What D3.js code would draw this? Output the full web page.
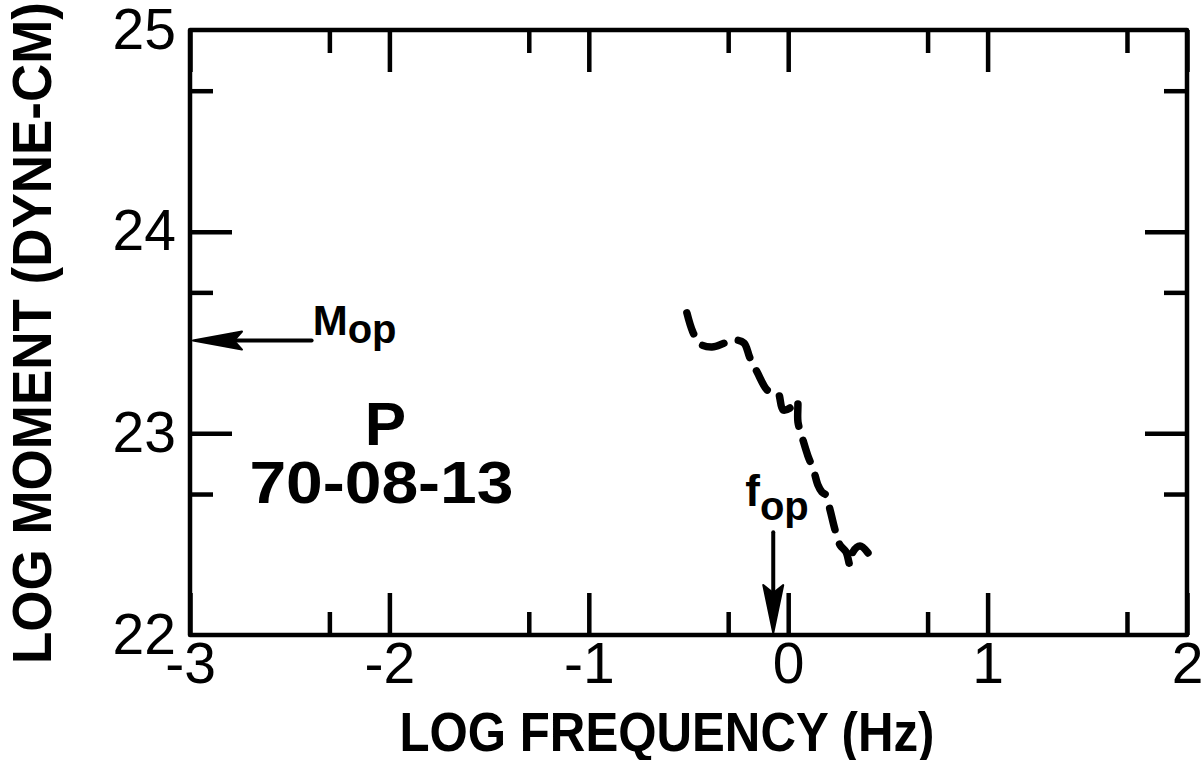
<!DOCTYPE html>
<html>
<head>
<meta charset="utf-8">
<script src="https://cdn.jsdelivr.net/npm/d3@7"></script>
<style>
  html, body { margin: 0; padding: 0; background: #fff; }
  svg { display: block; }
  text { fill: #000; font-family: "Liberation Sans", Arial, sans-serif; }
</style>
</head>
<body>
<svg id="chart" width="1201" height="760"></svg>
<script>
// Axis ticks (log10 units); minor ticks sit at log10(5) within each decade
const xTicksMajor = [-3, -2, -1, 0, 1, 2];
const xTickLabels = ["-3", "-2", "-1", "0", "1", "2"];
const xTicksMinor = [-2.301, -1.301, -0.301, 0.699, 1.699];
const yTicksMajor = [22, 23, 24, 25];
const yTickLabels = ["22", "23", "24", "25"];
const yTicksMinor = [22.699, 23.699, 24.699];

// P-wave moment spectrum, event 70-08-13
const spectrumLogF = [-0.508, -0.478, -0.442, -0.382, -0.317, -0.267, -0.222, -0.192, -0.156, -0.106,
                      -0.076, -0.051, -0.026, 0.009, 0.044, 0.049, 0.074, 0.099, 0.127, 0.149,
                      0.169, 0.189, 0.210, 0.235, 0.260, 0.290, 0.310, 0.325, 0.360, 0.400];
const spectrumLogM = [23.597, 23.502, 23.443, 23.428, 23.448, 23.463, 23.448, 23.374, 23.304, 23.215,
                      23.200, 23.200, 23.116, 23.126, 23.165, 23.056, 22.967, 22.888, 22.818, 22.744,
                      22.709, 22.694, 22.620, 22.521, 22.446, 22.412, 22.347, 22.412, 22.441, 22.407];

// Picked plateau moment and corner frequency
const momentOp = 23.46;
const freqOp = -0.075;

const svg = d3.select("#chart");
const x = d3.scaleLinear().domain([-3, 2]).range([190, 1187]);
const y = d3.scaleLinear().domain([22, 25]).range([635, 30]);

const majorLen = 42, minorLen = 23;
const axisStroke = 4.5;

function styleAxis(g) {
  g.select(".domain").remove();
  g.selectAll(".tick line").attr("stroke", "#000").attr("stroke-width", axisStroke);
}

// Bottom axis with labels
const gBottom = svg.append("g").attr("transform", `translate(0,${y(22)})`);
gBottom.call(d3.axisBottom(x).tickValues(xTicksMajor).tickSize(-majorLen).tickPadding(8)
  .tickFormat((d, i) => xTickLabels[i]));
styleAxis(gBottom);
gBottom.selectAll(".tick text").attr("font-size", 57).attr("font-family", "Liberation Sans, Arial, sans-serif");
svg.append("g").attr("transform", `translate(0,${y(22)})`)
  .call(d3.axisBottom(x).tickValues(xTicksMinor).tickSize(-minorLen).tickFormat(""))
  .call(styleAxis);

// Top axis
svg.append("g").attr("transform", `translate(0,${y(25)})`)
  .call(d3.axisTop(x).tickValues(xTicksMajor).tickSize(-majorLen).tickFormat(""))
  .call(styleAxis);
svg.append("g").attr("transform", `translate(0,${y(25)})`)
  .call(d3.axisTop(x).tickValues(xTicksMinor).tickSize(-minorLen).tickFormat(""))
  .call(styleAxis);

// Left axis with labels
const gLeft = svg.append("g").attr("transform", `translate(${x(-3)},0)`);
gLeft.call(d3.axisLeft(y).tickValues(yTicksMajor).tickSize(-majorLen).tickPadding(14)
  .tickFormat((d, i) => yTickLabels[i]));
styleAxis(gLeft);
gLeft.selectAll(".tick line").filter(d => d === 22 || d === 25).remove();
gLeft.selectAll(".tick text").attr("font-size", 57).attr("font-family", "Liberation Sans, Arial, sans-serif");
svg.append("g").attr("transform", `translate(${x(-3)},0)`)
  .call(d3.axisLeft(y).tickValues(yTicksMinor).tickSize(-minorLen).tickFormat(""))
  .call(styleAxis);

// Right axis
svg.append("g").attr("transform", `translate(${x(2)},0)`)
  .call(d3.axisRight(y).tickValues(yTicksMajor.filter(v => v > 22 && v < 25)).tickSize(-majorLen).tickFormat(""))
  .call(styleAxis);
svg.append("g").attr("transform", `translate(${x(2)},0)`)
  .call(d3.axisRight(y).tickValues(yTicksMinor).tickSize(-minorLen).tickFormat(""))
  .call(styleAxis);

// Frame
svg.append("rect")
  .attr("x", x(-3)).attr("y", y(25))
  .attr("width", x(2) - x(-3)).attr("height", y(22) - y(25))
  .attr("fill", "none").attr("stroke", "#000").attr("stroke-width", axisStroke)
  .attr("stroke-linejoin", "round");

// Spectrum (dashed)
const pts = spectrumLogF.map((f, i) => [f, spectrumLogM[i]]);
svg.append("path")
  .datum(pts)
  .attr("d", d3.line().x(d => x(d[0])).y(d => y(d[1])).curve(d3.curveCatmullRom.alpha(0.5)))
  .attr("fill", "none").attr("stroke", "#000").attr("stroke-width", 7.5)
  .attr("stroke-linecap", "round").attr("stroke-linejoin", "round")
  .attr("stroke-dasharray", "22,15");

// Arrow toward the moment axis (M_op)
const mY = y(momentOp);
svg.append("line")
  .attr("x1", x(-3) + 40).attr("x2", x(-2.39))
  .attr("y1", mY).attr("y2", mY)
  .attr("stroke", "#000").attr("stroke-width", 4).attr("stroke-linecap", "round");
svg.append("path")
  .attr("d", `M${x(-3) + 3},${mY} L${x(-3) + 52},${mY - 9} L${x(-3) + 44},${mY} L${x(-3) + 52},${mY + 9} Z`)
  .attr("fill", "#000").attr("stroke", "#000").attr("stroke-width", 2).attr("stroke-linejoin", "round");

const mLabel = svg.append("text")
  .attr("x", x(-2.385)).attr("y", mY - 6)
  .attr("font-size", 42).attr("font-weight", "bold");
mLabel.append("tspan").text("M");
mLabel.append("tspan").attr("dy", 8).attr("font-size", 40).text("op");

// Arrow toward the frequency axis (f_op)
const fX = x(freqOp);
svg.append("line")
  .attr("x1", fX).attr("x2", fX)
  .attr("y1", y(22.51)).attr("y2", y(22) - 40)
  .attr("stroke", "#000").attr("stroke-width", 4).attr("stroke-linecap", "round");
svg.append("path")
  .attr("d", `M${fX},${y(22) - 2} L${fX - 10},${y(22) - 50} L${fX},${y(22) - 42} L${fX + 10},${y(22) - 50} Z`)
  .attr("fill", "#000").attr("stroke", "#000").attr("stroke-width", 2).attr("stroke-linejoin", "round");

const fLabel = svg.append("text")
  .attr("x", fX - 28).attr("y", y(22.64))
  .attr("font-size", 44).attr("font-weight", "bold");
fLabel.append("tspan").text("f");
fLabel.append("tspan").attr("dy", 14).attr("font-size", 40).text("op");

// Phase and event labels
svg.append("text")
  .attr("x", x(-2.02)).attr("y", y(22.94))
  .attr("text-anchor", "middle").attr("font-size", 62).attr("font-weight", "bold")
  .text("P");
svg.append("text")
  .attr("x", x(-2.04)).attr("y", y(22.655))
  .attr("text-anchor", "middle").attr("font-size", 60).attr("font-weight", "bold")
  .attr("textLength", 264).attr("lengthAdjust", "spacingAndGlyphs")
  .text("70-08-13");

// Axis titles
svg.append("text")
  .attr("x", 667).attr("y", 751)
  .attr("text-anchor", "middle").attr("font-size", 55).attr("font-weight", "bold")
  .attr("textLength", 535).attr("lengthAdjust", "spacingAndGlyphs")
  .text("LOG FREQUENCY (Hz)");
svg.append("text")
  .attr("transform", "translate(51,333) rotate(-90)")
  .attr("text-anchor", "middle").attr("font-size", 56).attr("font-weight", "bold")
  .attr("textLength", 662).attr("lengthAdjust", "spacingAndGlyphs")
  .text("LOG MOMENT (DYNE-CM)");
</script>
</body>
</html>
